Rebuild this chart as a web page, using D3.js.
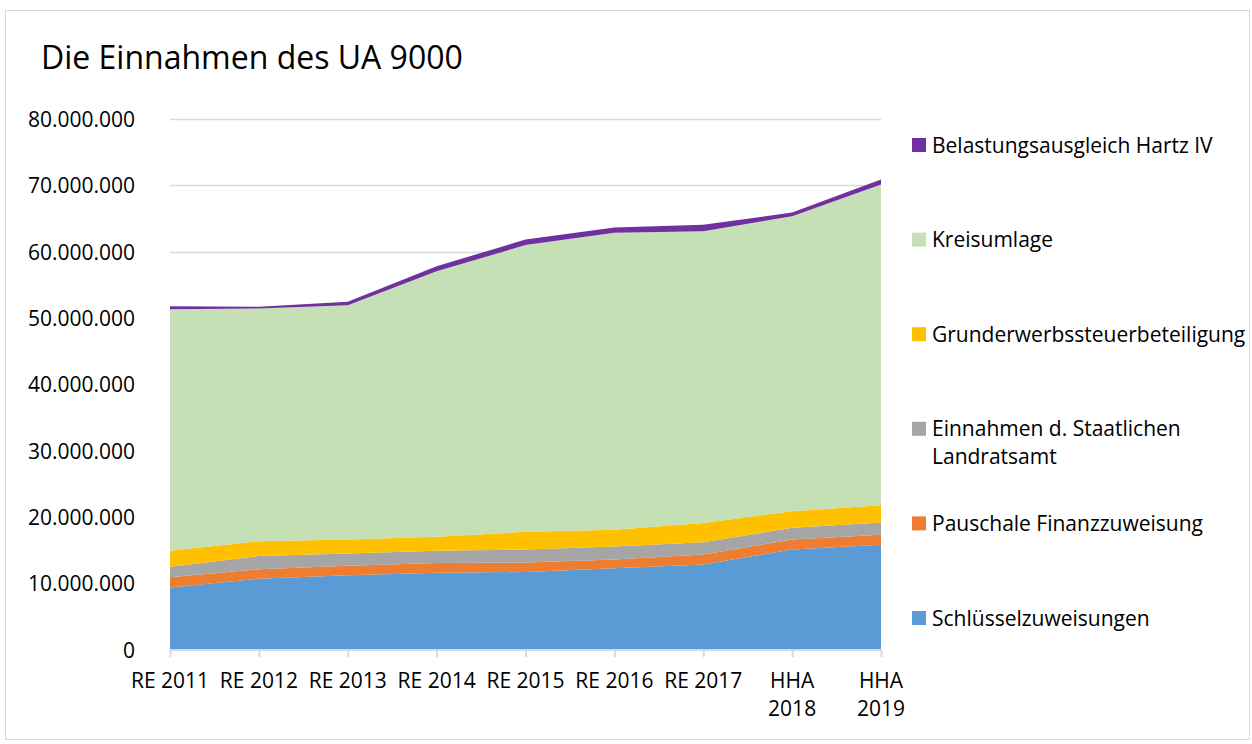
<!DOCTYPE html>
<html>
<head>
<meta charset="utf-8">
<script src="https://cdn.jsdelivr.net/npm/d3@7"></script>
<style>
  html, body { margin: 0; padding: 0; background: #fff; }
  svg text { font-family: "Open Sans", "Noto Sans", sans-serif; fill: #000; }
</style>
</head>
<body>
<svg id="chart" width="1252" height="744"></svg>
<script>
// ---- data ----
const categories = ["RE 2011", "RE 2012", "RE 2013", "RE 2014", "RE 2015", "RE 2016", "RE 2017", "HHA 2018", "HHA 2019"];
const categoryLines = [["RE 2011"], ["RE 2012"], ["RE 2013"], ["RE 2014"], ["RE 2015"], ["RE 2016"], ["RE 2017"], ["HHA", "2018"], ["HHA", "2019"]];
const seriesNames = ["Schlüsselzuweisungen", "Pauschale Finanzzuweisung", "Einnahmen d. Staatlichen Landratsamt", "Grunderwerbssteuerbeteiligung", "Kreisumlage", "Belastungsausgleich Hartz IV"];
const schluesselzuweisungen = [9400000, 10750000, 11250000, 11650000, 11750000, 12300000, 12900000, 15150000, 15850000];
const pauschaleFinanzzuweisung = [1550000, 1400000, 1450000, 1450000, 1450000, 1350000, 1500000, 1500000, 1500000];
const staatlichesLandratsamt = [1600000, 2000000, 1850000, 1850000, 1950000, 1950000, 1850000, 1750000, 1850000];
const grunderwerbssteuer = [2400000, 2250000, 2100000, 2100000, 2650000, 2500000, 2900000, 2500000, 2600000];
const kreisumlage = [36400000, 35050000, 35300000, 40000000, 43200000, 44750000, 43950000, 44450000, 48350000];
const hartzIV = [450000, 250000, 500000, 750000, 850000, 800000, 950000, 550000, 750000];
const yTicks = [0, 10000000, 20000000, 30000000, 40000000, 50000000, 60000000, 70000000, 80000000];
const colors = ["#5B9BD5", "#ED7D31", "#A5A5A5", "#FFC000", "#C5E0B4", "#7030A0"];
const title = "Die Einnahmen des UA 9000";

// ---- build table ----
const seriesValues = [schluesselzuweisungen, pauschaleFinanzzuweisung, staatlichesLandratsamt, grunderwerbssteuer, kreisumlage, hartzIV];
const keys = seriesNames;
const table = categories.map((c, i) => {
  const row = { cat: c };
  keys.forEach((k, j) => row[k] = seriesValues[j][i]);
  return row;
});
const stacked = d3.stack().keys(keys)(table);

const svg = d3.select("#chart");

// frame
svg.append("rect").attr("x", 5.5).attr("y", 10.5).attr("width", 1244).attr("height", 729)
  .attr("fill", "#fff").attr("stroke", "#d9d9d9").attr("stroke-width", 1);

// title
svg.append("text").attr("x", 41).attr("y", 69).attr("font-size", 32).text(title);

const x = d3.scalePoint().domain(categories).range([170, 881]);
const y = d3.scaleLinear().domain([0, 80000000]).range([650, 119]);

// gridlines
svg.append("g").selectAll("line").data(yTicks.filter(t => t > 0)).join("line")
  .attr("x1", 170).attr("x2", 881)
  .attr("y1", d => Math.round(y(d)) + 0.5).attr("y2", d => Math.round(y(d)) + 0.5)
  .attr("stroke", "#d9d9d9").attr("stroke-width", 1.3);

// areas
const area = d3.area()
  .x(d => x(d.data.cat))
  .y0(d => y(d[0]))
  .y1(d => y(d[1]));
svg.append("g").selectAll("path").data(stacked).join("path")
  .attr("d", area)
  .attr("fill", (d, i) => colors[i]);

// y axis labels
const fmt = v => v === 0 ? "0" : d3.format(",")(v).replace(/,/g, ".");
const yAxis = d3.axisLeft(y).tickValues(yTicks).tickFormat(fmt).tickSize(0).tickPadding(0);
const gy = svg.append("g").attr("transform", "translate(135,0)").call(yAxis);
gy.select(".domain").remove();
gy.selectAll("text").attr("font-size", 21).attr("font-family", "Open Sans").attr("fill", "#000").attr("dy", "0.35em");

// x axis
const xAxis = d3.axisBottom(x).tickSize(7).tickFormat("");
const gx = svg.append("g").attr("transform", "translate(0,650)").call(xAxis);
gx.select(".domain").attr("stroke", "#d9d9d9").attr("stroke-width", 2).attr("d", "M170,0H881");
gx.selectAll(".tick line").attr("stroke", "#d9d9d9").attr("stroke-width", 2);

// x labels
const xl = svg.append("g").selectAll("text").data(categories).join("text")
  .attr("x", d => x(d)).attr("y", 688).attr("text-anchor", "middle").attr("font-size", 21);
xl.each(function(d, i) {
  const t = d3.select(this);
  categoryLines[i].forEach((ln, k) => {
    t.append("tspan").attr("x", x(d)).attr("dy", k === 0 ? 0 : 28).text(ln);
  });
});

// legend (top-down: reverse order)
const legendItems = seriesNames.map((n, i) => ({ name: n, color: colors[i] })).reverse();
const legendLines = {
  "Einnahmen d. Staatlichen Landratsamt": ["Einnahmen d. Staatlichen", "Landratsamt"]
};
const lg = svg.append("g");
legendItems.forEach((it, i) => {
  const cy = 145 + i * 94.6;
  lg.append("rect").attr("x", 912).attr("y", cy - 7).attr("width", 14).attr("height", 14).attr("fill", it.color);
  const lines = legendLines[it.name] || [it.name];
  const t = lg.append("text").attr("x", 932).attr("y", cy + 7.5).attr("font-size", 21);
  lines.forEach((ln, k) => t.append("tspan").attr("x", 932).attr("dy", k === 0 ? 0 : 28).text(ln));
});
</script>
</body>
</html>
